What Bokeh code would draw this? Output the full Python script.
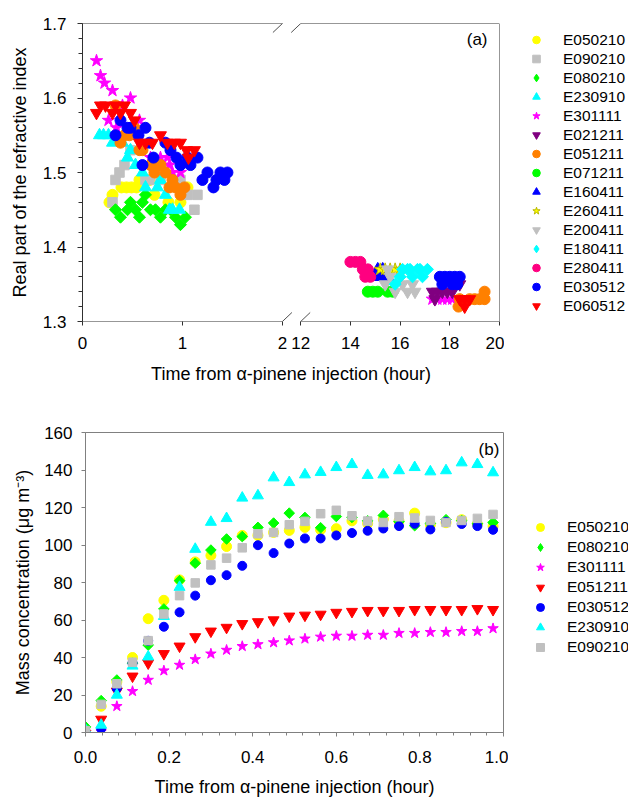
import numpy as np
from bokeh.plotting import figure
from bokeh.layouts import column, row
from bokeh.models import (Range1d, FixedTicker, SingleIntervalTicker, Legend, LegendItem,
                          Label, Arrow, NumeralTickFormatter)
from bokeh.embed import file_html
from bokeh.resources import INLINE

FONT = "Liberation Sans"

# ---------------- panel (a): refractive index vs time (hour) ----------------
E050210_t = [0.27, 0.30, 0.39, 0.44, 0.49, 0.54, 0.57, 0.67, 0.72, 0.86, 0.98, 1.05]
E050210_n = [1.46, 1.47, 1.48, 1.48, 1.48, 1.48, 1.49, 1.49, 1.47, 1.46, 1.46, 1.48]
E090210_t = [0.30, 0.33, 0.37, 0.42, 0.48, 0.63, 0.67, 0.78, 0.98, 1.05, 1.12, 1.15]
E090210_n = [1.46, 1.49, 1.50, 1.51, 1.53, 1.49, 1.49, 1.49, 1.49, 1.47, 1.45, 1.47]
E080210_t = [0.33, 0.38, 0.45, 0.48, 0.53, 0.57, 0.60, 0.63, 0.68, 0.73, 0.78, 0.83, 0.88, 0.93, 0.98, 1.03]
E080210_n = [1.45, 1.44, 1.45, 1.46, 1.45, 1.44, 1.46, 1.47, 1.45, 1.45, 1.44, 1.45, 1.45, 1.44, 1.43, 1.44]
E230910_t = [0.17, 0.21, 0.26, 0.30, 0.40, 0.45, 0.48, 0.53, 0.60, 0.63, 0.75, 0.78, 0.83, 0.87, 0.90, 0.97]
E230910_n = [1.55, 1.55, 1.55, 1.54, 1.54, 1.52, 1.53, 1.51, 1.50, 1.48, 1.48, 1.49, 1.47, 1.45, 1.45, 1.45]
E301111_t = [0.14, 0.18, 0.22, 0.26, 0.30, 0.34, 0.40, 0.48, 0.53, 0.57, 0.68, 0.78, 0.85, 0.87, 0.90, 0.98,
             17.3, 17.5, 17.7, 17.9, 18.1]
E301111_n = [1.65, 1.63, 1.62, 1.57, 1.61, 1.56, 1.59, 1.60, 1.56, 1.57, 1.52, 1.52, 1.52, 1.51, 1.50, 1.50,
             1.33, 1.33, 1.33, 1.33, 1.33]
E021211_t = [17.3, 17.4, 17.5, 17.7, 17.9, 18.1, 18.2, 18.4]
E021211_n = [1.34, 1.33, 1.34, 1.34, 1.34, 1.34, 1.35, 1.35]
E051211_t = [0.33, 0.38, 0.42, 0.47, 0.52, 0.57, 0.60, 0.68, 0.72, 0.73, 0.78, 0.83, 0.87, 0.90, 0.93, 0.98, 1.02,
             18.35, 18.4, 18.8, 19.0, 19.2, 19.4, 19.4]
E051211_n = [1.59, 1.54, 1.55, 1.55, 1.56, 1.53, 1.53, 1.51, 1.50, 1.51, 1.51, 1.50, 1.48, 1.49, 1.48, 1.47, 1.48,
             1.32, 1.33, 1.33, 1.33, 1.33, 1.34, 1.33]
E071211_t = [14.7, 14.9, 15.1, 15.5, 15.7]
E071211_n = [1.34, 1.34, 1.34, 1.34, 1.34]
E160411_t = [14.9, 15.1, 15.1, 15.3, 15.3, 15.5]
E160411_n = [1.36, 1.36, 1.37, 1.36, 1.37, 1.36]
E260411_t = [15.2, 15.4, 15.6, 15.8, 16.0]
E260411_n = [1.37, 1.37, 1.37, 1.37, 1.37]
E200411_t = [15.4, 15.5, 15.6, 15.8, 16.1, 16.3, 16.5, 16.6]
E200411_n = [1.35, 1.37, 1.36, 1.34, 1.35, 1.34, 1.35, 1.34]
E180411_t = [15.8, 16.0, 16.1, 16.3, 16.4, 16.5, 16.7, 16.8, 16.9, 17.1]
E180411_n = [1.35, 1.36, 1.37, 1.37, 1.37, 1.36, 1.37, 1.37, 1.36, 1.37]
E280411_t = [14.0, 14.2, 14.4, 14.5, 14.6, 14.7, 14.8]
E280411_n = [1.38, 1.38, 1.38, 1.37, 1.36, 1.37, 1.36]
E030512_t = [0.33, 0.38, 0.45, 0.48, 0.56, 0.60, 0.63, 0.67, 0.71, 0.83, 0.88, 0.94, 0.98, 1.05, 1.08, 1.15,
             1.20, 1.25, 1.31, 1.34, 1.38, 1.42, 1.45, 17.6, 17.7, 17.8, 18.0, 18.1, 18.2, 18.3, 18.4]
E030512_n = [1.55, 1.57, 1.56, 1.56, 1.55, 1.51, 1.56, 1.54, 1.52, 1.54, 1.53, 1.52, 1.51, 1.52, 1.51, 1.52,
             1.49, 1.50, 1.48, 1.49, 1.50, 1.49, 1.50, 1.36, 1.35, 1.36, 1.36, 1.35, 1.36, 1.35, 1.36]
E060512_t = [0.14, 0.18, 0.23, 0.30, 0.33, 0.38, 0.42, 0.48, 0.52, 0.57, 0.63, 0.70, 0.78, 0.85, 0.92, 0.98,
             1.04, 1.06, 1.12, 18.4, 18.6, 18.6, 18.8]
E060512_n = [1.58, 1.59, 1.59, 1.58, 1.59, 1.58, 1.59, 1.58, 1.57, 1.54, 1.54, 1.54, 1.55, 1.54, 1.54, 1.54,
             1.53, 1.52, 1.53, 1.33, 1.33, 1.32, 1.33]

A_TICK_HOURS = [0, 1, 2, 12, 14, 16, 18, 20]
A_Y_TICKS = [1.3, 1.4, 1.5, 1.6, 1.7]

# ---------------- panel (b): mass concentration vs time ----------------
B_T = [0.0, 0.0375, 0.075, 0.1125, 0.15, 0.1875, 0.225, 0.2625, 0.3, 0.3375, 0.375, 0.4125, 0.45, 0.4875,
       0.525, 0.5625, 0.6, 0.6375, 0.675, 0.7125, 0.75, 0.7875, 0.825, 0.8625, 0.9, 0.9375, 0.975]
B_E050210 = [0, 14, 27, 40, 60.7, 70.5, 81.4, 91, 94.4, 99.2, 105.1, 105.1, 106.7, 107.8, 109.4, 108.1,
             108.7, 112.9, 111.5, 113.8, 112.8, 117, 110.8, 111.9, 113.5, 111.2, 110]
B_E080210 = [3, 17, 28, 37, 46.6, 65.9, 81, 90.3, 97.3, 103.2, 104.5, 109.4, 111.7, 117, 114.7, 109.2,
             115.2, 114.7, 112.9, 115.8, 112.5, 110.3, 111.5, 113.5, 113, 111.4, 112]
B_E301111 = [0, 0.5, 14, 22, 28, 33, 36, 39, 42, 44, 46, 47, 48, 49, 50, 51, 51.5, 51.5, 52, 52, 53, 53,
             53.5, 53.5, 54, 54, 55.5]
B_E051211 = [-0.5, 7, 22, 30, 37, 42, 46, 51, 54, 56, 58, 59, 60, 62, 62.5, 63, 64, 64.5, 65, 65, 65,
             65.5, 65.5, 65.5, 65.5, 66, 65.5]
B_E030512 = [0, 2, 23.5, 37, 48.9, 56.4, 64.1, 73, 81.2, 83.9, 88.9, 99.9, 95.7, 100.8, 103.5, 103.5,
             105.1, 106.4, 107.6, 108.8, 110.1, 111.3, 108.3, 112.4, 111.2, 110.1, 108.1]
B_E230910 = [1.5, 4, 20, 35.5, 40.4, 62, 77.5, 97.8, 112.2, 114.2, 125.1, 126.3, 135.9, 133.4, 137.5,
             138.8, 141.4, 143.0, 137.2, 137.5, 139.7, 141.4, 139.1, 139.7, 143.9, 143.0, 138.6]
B_E090210 = [1, 15, 26, 37.5, 49, 63.2, 73, 79.8, 89.4, 93, 98.5, 106, 106.7, 110.8, 112.6, 116.7, 118.5,
             115.6, 112.8, 112, 115.1, 114.4, 113.1, 112, 113.1, 114.2, 116.3]

# ---------------- styles ----------------
YEL, GRY, GRN, CYN, MAG = "#FFFF00", "#C0C0C0", "#00FF00", "#00FFFF", "#FF00FF"
PUR, ORA, BLU, PNK, RED = "#800080", "#FF8000", "#0000FF", "#FF0080", "#FF0000"
DIAM = np.pi / 4

# broken axis mapping for panel (a)
BREAK_LO, BREAK_HI = 2.0, 12.0
GAP = 0.183
RIGHT_SCALE = 0.2486


def brk(t):
    t = np.asarray(t, dtype=float)
    return np.where(t <= BREAK_LO, t, BREAK_LO + GAP + (t - BREAK_HI) * RIGHT_SCALE)


def style_axis(ax, color, tick_size="17px"):
    ax.axis_line_color = color
    ax.major_tick_line_color = color
    ax.minor_tick_line_color = color
    ax.major_tick_in = 0
    ax.minor_tick_in = 0
    ax.major_label_text_font = FONT
    ax.major_label_text_font_size = tick_size
    ax.major_label_text_color = "black"
    ax.axis_label_text_font = FONT
    ax.axis_label_text_font_size = "18px"
    ax.axis_label_text_font_style = "normal"
    ax.axis_label_text_color = "black"


def seg(p, x0, y0, x1, y1, color, width=1):
    p.add_layout(Arrow(start=None, end=None, x_start=x0, y_start=y0, x_end=x1, y_end=y1,
                       line_color=color, line_width=width))


def legend_panel(width, height, entries, loc, row_h):
    """Separate, axis-free figure that only carries the legend of a panel
    (its frame is aligned with the neighbouring plot's frame by the row layout)."""
    lf = figure(width=width, height=height, x_range=Range1d(0, 1), y_range=Range1d(0, 1),
                x_axis_type=None, y_axis_type=None, output_backend="svg", toolbar_location=None,
                min_border_left=0, min_border_right=0, min_border_top=0, min_border_bottom=0,
                outline_line_color=None, background_fill_color="white", border_fill_color="white")
    lf.grid.visible = False
    items = []
    for name, mk, fc, lc, ang in entries:
        mk = "diamond" if ang else mk
        # proxy renderer (nothing drawn inside the empty frame)
        r = lf.scatter(x=[np.nan], y=[np.nan], marker=mk, size=8, fill_color=fc, line_color=lc)
        items.append(LegendItem(label=name, renderers=[r]))
    lf.add_layout(Legend(items=items, location=loc, orientation="vertical",
                         glyph_width=20, glyph_height=row_h, label_height=row_h, spacing=0,
                         padding=0, margin=0, label_standoff=17, label_text_font=FONT,
                         label_text_font_size="15.5px", label_text_color="black",
                         border_line_alpha=0, background_fill_alpha=0))
    return lf


# ================= panel (a) =================
H1 = 400
x_end = float(brk(20))
p1 = figure(width=504, height=H1, x_range=Range1d(0, x_end), y_range=Range1d(1.3, 1.7),
            output_backend="svg", toolbar_location=None,
            min_border_left=82, min_border_right=5, min_border_top=23, min_border_bottom=79,
            outline_line_color=None, background_fill_color="white", border_fill_color="white")
p1.grid.visible = False

series_a = [
    ("E050210", E050210_t, E050210_n, "circle", YEL, YEL, 11, 0),
    ("E090210", E090210_t, E090210_n, "square", GRY, GRY, 9.5, 0),
    ("E080210", E080210_t, E080210_n, "square", GRN, GRN, 8.5, DIAM),
    ("E230910", E230910_t, E230910_n, "triangle", CYN, CYN, 12, 0),
    ("E301111", E301111_t, E301111_n, "star", MAG, MAG, 13, 0),
    ("E021211", E021211_t, E021211_n, "inverted_triangle", PUR, PUR, 12, 0),
    ("E051211", E051211_t, E051211_n, "circle", ORA, ORA, 11, 0),
    ("E071211", E071211_t, E071211_n, "circle", GRN, GRN, 11, 0),
    ("E160411", E160411_t, E160411_n, "triangle", BLU, BLU, 12, 0),
    ("E260411", E260411_t, E260411_n, "star", YEL, "#B8B800", 13, 0),
    ("E200411", E200411_t, E200411_n, "inverted_triangle", GRY, GRY, 12, 0),
    ("E180411", E180411_t, E180411_n, "square", CYN, CYN, 8.5, DIAM),
    ("E280411", E280411_t, E280411_n, "circle", PNK, PNK, 11, 0),
    ("E030512", E030512_t, E030512_n, "circle", BLU, BLU, 11, 0),
    ("E060512", E060512_t, E060512_n, "inverted_triangle", RED, RED, 12, 0),
]
for name, t, n, mk, fc, lc, sz, ang in series_a:
    p1.scatter(x=brk(t), y=n, marker=mk, size=sz, angle=ang, fill_color=fc, line_color=lc)

tick_pos = [float(v) for v in brk(A_TICK_HOURS)]
p1.xaxis.ticker = FixedTicker(ticks=tick_pos, minor_ticks=[])
p1.xaxis.major_label_overrides = {pos: str(h) for pos, h in zip(tick_pos, A_TICK_HOURS)}
p1.yaxis.ticker = FixedTicker(ticks=A_Y_TICKS,
                              minor_ticks=[float(v) for v in np.round(np.arange(1.30, 1.7001, 0.02), 2)])
p1.yaxis.formatter = NumeralTickFormatter(format="0.0")
AX1 = "#303030"
for ax in (p1.xaxis[0], p1.yaxis[0]):
    style_axis(ax, AX1)
p1.xaxis.axis_line_color = None
p1.xaxis.major_tick_out = 4
p1.xaxis.major_label_standoff = 11
p1.xaxis.axis_label = "Time from α-pinene injection (hour)"
p1.xaxis.axis_label_standoff = 12
p1.yaxis.major_tick_out = 5
p1.yaxis.minor_tick_out = 4
p1.yaxis.major_label_standoff = 11
p1.yaxis.axis_label = "Real part of the refractive index"
p1.yaxis.axis_label_standoff = 10

# frame lines and axis-break marks
u2, u12, u20 = tick_pos[2], tick_pos[3], tick_pos[-1]
for yy in (1.3, 1.7):
    seg(p1, 0, yy, u2, yy, AX1)
    seg(p1, u12, yy, u20, yy, AX1)
seg(p1, u20, 1.3, u20, 1.7, AX1)
dx, dy = 0.095, 0.0121
for xc in (u2, u12):
    for yc in (1.3, 1.7):
        seg(p1, xc - dx, yc - dy, xc + dx, yc + dy, "#505050")

p1.add_layout(Label(x=u20 - 0.12, y=1.678, text="(a)", text_align="right", text_baseline="middle",
                    text_font=FONT, text_font_size="17px", text_color="black"))

lg1 = legend_panel(124, H1, [(s[0], s[3], s[4], s[5], s[7]) for s in series_a], (22, 6), 19)

# ================= panel (b) =================
H2 = 399
AX2 = "#808080"
p2 = figure(width=508, height=H2, x_range=Range1d(0, 1), y_range=Range1d(0, 160),
            output_backend="svg", toolbar_location=None,
            min_border_left=85, min_border_right=5, min_border_top=32, min_border_bottom=67,
            outline_line_color=AX2, outline_line_width=1,
            background_fill_color="white", border_fill_color="white")
p2.grid.visible = False

series_b = [
    ("E050210", B_E050210, "circle", YEL, 10, 0),
    ("E080210", B_E080210, "square", GRN, 7.5, DIAM),
    ("E301111", B_E301111, "star", MAG, 11, 0),
    ("E051211", B_E051211, "inverted_triangle", RED, 11, 0),
    ("E030512", B_E030512, "circle", BLU, 9, 0),
    ("E230910", B_E230910, "triangle", CYN, 11, 0),
    ("E090210", B_E090210, "square", GRY, 8.5, 0),
]
for name, vals, mk, col, sz, ang in series_b:
    p2.scatter(x=B_T, y=vals, marker=mk, size=sz, angle=ang, fill_color=col, line_color=col)

p2.xaxis.ticker = FixedTicker(ticks=[0, 0.2, 0.4, 0.6, 0.8, 1.0],
                              minor_ticks=[float(v) for v in np.round(np.arange(0, 1.0001, 0.04), 2)])
p2.xaxis.formatter = NumeralTickFormatter(format="0.0")
p2.yaxis.ticker = SingleIntervalTicker(interval=20, num_minor_ticks=0)
for ax in (p2.xaxis[0], p2.yaxis[0]):
    style_axis(ax, AX2)
p2.xaxis.major_tick_out = 4
p2.xaxis.minor_tick_out = 3
p2.xaxis.major_label_standoff = 14
p2.xaxis.axis_label = "Time from α-pinene injection (hour)"
p2.xaxis.axis_label_standoff = 11
p2.yaxis.major_tick_out = 4
p2.yaxis.major_label_standoff = 9
p2.yaxis.axis_label = "Mass concentration (μg m⁻³)"
p2.yaxis.axis_label_standoff = 8

p2.add_layout(Label(x=0.99, y=151, text="(b)", text_align="right", text_baseline="middle",
                    text_font=FONT, text_font_size="17px", text_color="black"))

lg2 = legend_panel(120, H2, [(s[0], s[2], s[3], s[3], s[5]) for s in series_b], (22, 75), 20)

layout = column(row(p1, lg1), row(p2, lg2))
open("out.html", "w").write(file_html(layout, INLINE))
